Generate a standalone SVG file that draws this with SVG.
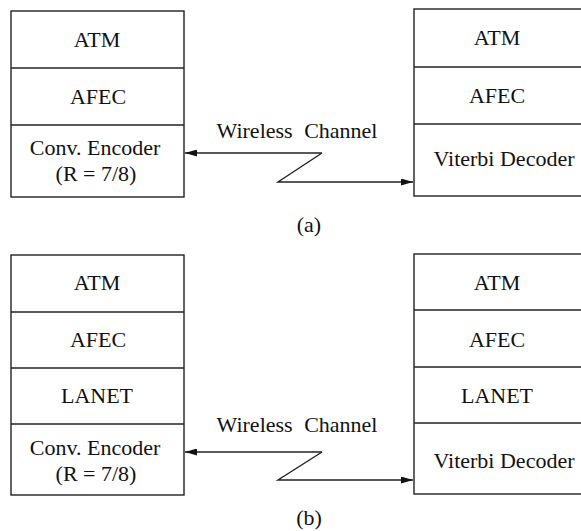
<svg xmlns="http://www.w3.org/2000/svg" width="581" height="531" viewBox="0 0 581 531">
<defs>
<style>
.box{fill:none;stroke:#222;stroke-width:1.4}
.ln{fill:none;stroke:#222;stroke-width:1.4}
.t{font-family:"Liberation Serif","Times New Roman",serif;font-size:22px;fill:#111;text-anchor:middle}
.w{word-spacing:6px}
</style>
<marker id="ah" viewBox="0 0 12 7" refX="12" refY="3.5" markerWidth="12" markerHeight="7" markerUnits="userSpaceOnUse" orient="auto">
<path d="M0,0 L12,3.5 L0,7 Z" fill="#111"/>
</marker>
</defs>
<rect width="581" height="531" fill="#fff"/>

<g id="a-left">
<rect class="box" x="11" y="11" width="173" height="186"/>
<line class="ln" x1="11" y1="68" x2="184" y2="68"/>
<line class="ln" x1="11" y1="125" x2="184" y2="125"/>
<text class="t" x="97" y="47">ATM</text>
<text class="t" x="98" y="104">AFEC</text>
<text class="t" x="95" y="155">Conv. Encoder</text>
<text class="t" x="96" y="181">(R = 7/8)</text>
</g>

<g id="a-right">
<rect class="box" x="414" y="9" width="170" height="187"/>
<line class="ln" x1="414" y1="67" x2="584" y2="67"/>
<line class="ln" x1="414" y1="124" x2="584" y2="124"/>
<text class="t" x="497" y="45">ATM</text>
<text class="t" x="497" y="103">AFEC</text>
<text class="t" x="504" y="166">Viterbi Decoder</text>
</g>

<g id="b-left">
<rect class="box" x="11" y="255" width="173" height="240"/>
<line class="ln" x1="11" y1="312" x2="184" y2="312"/>
<line class="ln" x1="11" y1="368" x2="184" y2="368"/>
<line class="ln" x1="11" y1="424" x2="184" y2="424"/>
<text class="t" x="97" y="290">ATM</text>
<text class="t" x="98" y="347">AFEC</text>
<text class="t" x="97" y="403">LANET</text>
<text class="t" x="95" y="455">Conv. Encoder</text>
<text class="t" x="96" y="481">(R = 7/8)</text>
</g>

<g id="b-right">
<rect class="box" x="414" y="254" width="170" height="240"/>
<line class="ln" x1="414" y1="310" x2="584" y2="310"/>
<line class="ln" x1="414" y1="367" x2="584" y2="367"/>
<line class="ln" x1="414" y1="423" x2="584" y2="423"/>
<text class="t" x="497" y="290">ATM</text>
<text class="t" x="497" y="347">AFEC</text>
<text class="t" x="497" y="403">LANET</text>
<text class="t" x="504" y="468">Viterbi Decoder</text>
</g>

<g id="connectors">
<polyline class="ln" points="322,153 185,153" marker-end="url(#ah)"/>
<polyline class="ln" points="322,153 278,182 413,182" marker-end="url(#ah)"/>
<polyline class="ln" points="322,452 185,452" marker-end="url(#ah)"/>
<polyline class="ln" points="322,452 278,480 413,480" marker-end="url(#ah)"/>
</g>

<g id="labels">
<text class="t w" x="297" y="138">Wireless Channel</text>
<text class="t w" x="297" y="432">Wireless Channel</text>
<text class="t" x="309" y="232">(a)</text>
<text class="t" x="309" y="525">(b)</text>
</g>
</svg>
